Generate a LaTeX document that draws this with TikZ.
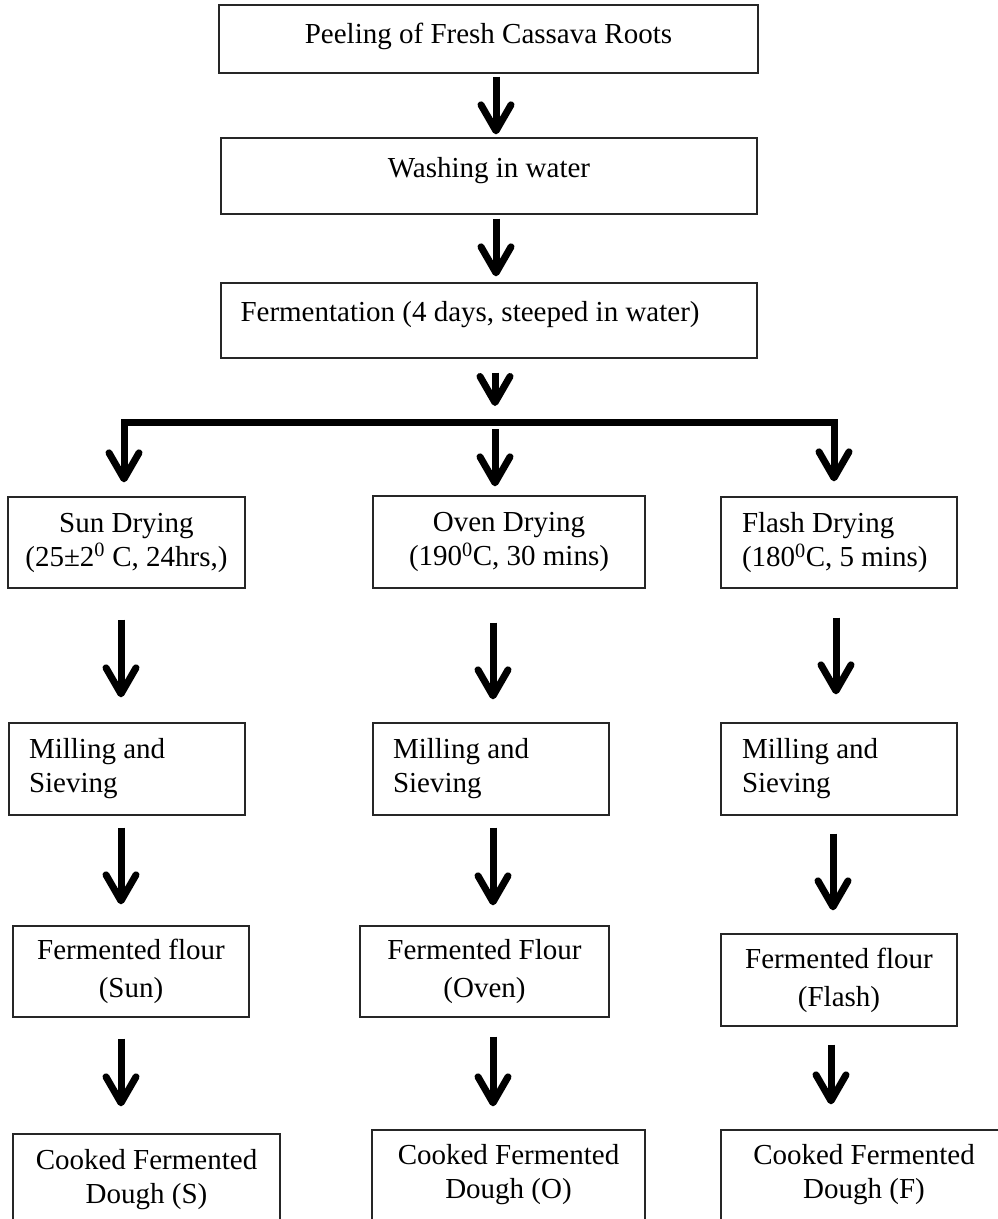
\documentclass[tikz,border=0pt]{standalone}
\usepackage{fontspec}
\setmainfont{Liberation Serif}
\usetikzlibrary{arrows.meta}
\begin{document}
\begin{tikzpicture}[x=1pt,y=-1pt,
  box/.style={draw=black!85, line width=1.3pt, rectangle, inner sep=0pt,
    font=\fontsize{29}{34}\selectfont, align=center},
  lbox/.style={box, align=flush left, inner xsep=20pt, text width=#1},
  flour/.style={box, font=\fontsize{29}{38}\selectfont},
  arr/.style={line width=7pt, -{Straight Barb[length=26pt,width=30pt,round]}},
  barr/.style={line width=7pt, line join=miter,
    {Straight Barb[length=26pt,width=30pt,round]}-{Straight Barb[length=26pt,width=30pt,round]}}
]
\useasboundingbox (0,0) rectangle (998,1219);

% top column
\node[box, minimum width=539pt, minimum height=68pt, text height=20pt, text depth=12pt] (pe) at (488.5,39) {Peeling of Fresh Cassava Roots};
\node[box, minimum width=536pt, minimum height=76pt, text height=20pt, text depth=18pt] (wa) at (489,176) {Washing in water};
\node[lbox=497pt, inner xsep=19pt, minimum width=536pt, minimum height=75pt, text height=20pt, text depth=19pt] (fe) at (489,320.5) {Fermentation (4 days, steeped in water)};

% drying
\node[box, minimum width=237pt, minimum height=91pt] (sd) at (126.5,542.5) {Sun Drying\\(25±2\textsuperscript{0} C, 24hrs,)};
\node[box, minimum width=272pt, minimum height=92pt] (od) at (509,542) {Oven Drying\\(190\textsuperscript{0}C, 30 mins)};
\node[lbox=194pt, inner xsep=21pt, minimum width=236pt, minimum height=91pt] (fd) at (839,542.5) {Flash Drying\\(180\textsuperscript{0}C, 5 mins)};

% milling
\node[lbox=196pt, minimum width=236pt, minimum height=92pt] (ms) at (127,769) {Milling and\\Sieving};
\node[lbox=196pt, minimum width=236pt, minimum height=92pt] (om) at (491,769) {Milling and\\Sieving};
\node[lbox=194pt, inner xsep=21pt, minimum width=236pt, minimum height=92pt] (fm) at (839,769) {Milling and\\Sieving};

% flour
\node[flour, minimum width=236pt, minimum height=91pt] (sf) at (131,971.5) {Fermented flour\\(Sun)};
\node[flour, minimum width=249pt, minimum height=91pt] (of) at (484.5,971.5) {Fermented Flour\\(Oven)};
\node[flour, minimum width=236pt, minimum height=92pt] (ff) at (839,980) {Fermented flour\\(Flash)};

% cooked
\node[box, minimum width=267pt, minimum height=92pt] (sc) at (146.5,1180) {Cooked Fermented\\Dough (S)};
\node[box, minimum width=273pt, minimum height=90pt] (oc) at (508.5,1175) {Cooked Fermented\\Dough (O)};
\node[box, minimum width=286pt, minimum height=90pt] (fc) at (864,1175) {Cooked Fermented\\Dough (F)};

% junction of the branching bar
\coordinate (j) at (495,422);

% arrows
\draw[arr] ([xshift=7.5pt,yshift=-3pt]pe.south) -- ([xshift=7pt,yshift=3pt]wa.north);
\draw[arr] ([xshift=7pt,yshift=-4pt]wa.south) -- ([xshift=7pt,yshift=6pt]fe.north);
\draw[arr] ([xshift=6pt,yshift=-14pt]fe.south) -- ([yshift=16pt]j);
\draw[barr] ([xshift=-2.5pt,yshift=14pt]sd.north) |- (j) -| ([xshift=-5pt,yshift=15pt]fd.north);
\draw[arr] ([yshift=-7pt]j) -- ([xshift=-14pt,yshift=9pt]od.north);

\draw[arr] ([xshift=-5.5pt,yshift=-31pt]sd.south) -- ([xshift=-6pt,yshift=25pt]ms.north);
\draw[arr] ([xshift=-16pt,yshift=-34pt]od.south) -- ([xshift=2pt,yshift=23pt]om.north);
\draw[arr] ([xshift=-3pt,yshift=-29pt]fd.south) -- ([xshift=-3pt,yshift=28pt]fm.north);

\draw[arr] ([xshift=-6pt,yshift=-12pt]ms.south) -- ([xshift=-10pt,yshift=21pt]sf.north);
\draw[arr] ([xshift=2pt,yshift=-12pt]om.south) -- ([xshift=8.5pt,yshift=20pt]of.north);
\draw[arr] ([xshift=-6pt,yshift=-18pt]fm.south) -- ([xshift=-6pt,yshift=23pt]ff.north);

\draw[arr] ([xshift=-10pt,yshift=-21pt]sf.south) -- ([xshift=-25.5pt,yshift=27pt]sc.north);
\draw[arr] ([xshift=8.5pt,yshift=-19pt]of.south) -- ([xshift=-15.5pt,yshift=23pt]oc.north);
\draw[arr] ([xshift=-8pt,yshift=-18pt]ff.south) -- ([xshift=-33pt,yshift=25pt]fc.north);
\end{tikzpicture}
\end{document}
